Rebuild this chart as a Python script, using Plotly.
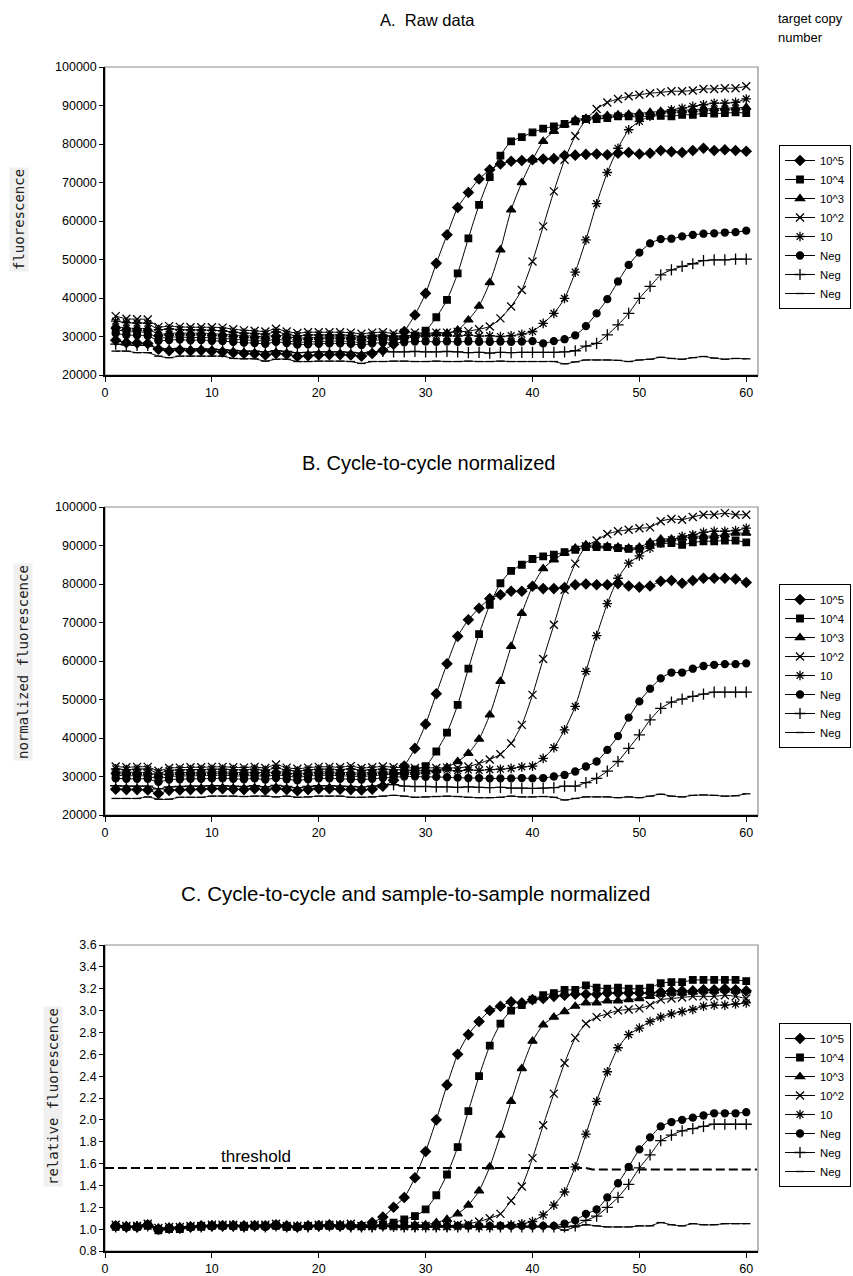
import plotly.graph_objects as go

cycles = list(range(1, 61))
series_names = ["10^5", "10^4", "10^3", "10^2", "10", "Neg", "Neg", "Neg"]

# ---------- Panel A : raw data (thousands) ----------
A_1e5 = [29.0, 28.4, 28.3, 28.2, 26.7, 26.3, 26.5, 26.3, 26.4, 26.2,
         26.0, 25.8, 25.6, 25.5, 25.2, 25.6, 25.4, 24.8, 25.0, 25.2,
         25.3, 25.3, 25.2, 24.9, 25.6, 26.4, 28.0, 31.3, 35.6, 41.2,
         49.0, 56.4, 63.5, 67.4, 70.9, 73.3, 74.8, 75.5, 75.7, 75.9,
         76.1, 76.2, 77.0, 77.1, 77.3, 77.4, 77.2, 77.6, 77.8, 77.4,
         77.6, 78.3, 78.0, 77.8, 78.3, 78.9, 78.3, 78.5, 78.3, 78.1]
A_1e4 = [31.8, 31.3, 31.2, 31.0, 29.6, 29.8, 29.9, 29.7, 29.8, 29.6,
         29.5, 29.3, 29.1, 29.0, 28.8, 29.3, 28.9, 28.5, 28.6, 28.7,
         28.8, 28.8, 28.7, 28.4, 28.9, 29.2, 29.0, 29.5, 30.2, 31.5,
         35.0, 39.5, 46.4, 55.5, 64.2, 71.4, 77.0, 80.7, 81.8, 83.0,
         84.0, 84.6, 85.2, 85.9, 86.5, 86.5, 86.7, 87.2, 87.2, 87.0,
         87.3, 87.3, 87.2, 87.6, 87.6, 88.0, 87.9, 88.0, 88.2, 88.0]
A_1e3 = [32.6, 32.2, 32.1, 32.0, 30.6, 30.8, 30.9, 30.8, 30.9, 30.7,
         30.6, 30.4, 30.2, 30.1, 29.9, 30.4, 30.0, 29.6, 29.7, 29.8,
         29.9, 29.9, 29.8, 29.5, 29.9, 30.1, 29.9, 30.0, 30.3, 30.5,
         30.8, 30.9, 31.7, 34.3, 37.9, 44.0, 52.5, 62.9, 70.0, 75.9,
         80.7, 83.3, 85.0, 86.3, 86.7, 87.2, 87.4, 87.6, 87.7, 88.0,
         88.2, 88.5, 88.6, 88.7, 88.9, 89.1, 89.2, 89.3, 89.4, 89.5]
A_1e2 = [35.3, 34.6, 34.5, 34.4, 32.5, 32.7, 32.5, 32.4, 32.4, 32.4,
         32.3, 31.9, 31.6, 31.5, 31.3, 32.0, 31.3, 30.9, 31.1, 31.1,
         31.1, 31.1, 31.0, 30.7, 31.0, 31.1, 30.8, 30.9, 31.0, 30.8,
         31.0, 31.0, 31.2, 31.4, 31.9, 32.6, 34.7, 37.8, 42.1, 49.5,
         58.6, 67.7, 75.9, 82.1, 86.3, 89.1, 90.8, 91.7, 92.4, 92.8,
         93.2, 93.4, 93.7, 93.7, 93.9, 94.3, 94.3, 94.5, 94.5, 95.0]
A_10 = [34.0, 33.6, 33.5, 33.4, 31.8, 32.0, 31.8, 31.7, 31.7, 31.6,
        31.5, 31.1, 30.9, 30.8, 30.6, 31.2, 30.6, 30.2, 30.4, 30.4,
        30.4, 30.4, 30.3, 30.0, 30.3, 30.4, 30.1, 30.2, 30.3, 30.1,
        30.3, 30.2, 30.1, 30.3, 30.1, 30.2, 30.0, 30.2, 30.6, 31.3,
        33.4, 36.0, 39.9, 46.7, 55.1, 64.5, 72.6, 78.9, 83.7, 85.9,
        87.2, 88.0, 88.9, 89.3, 89.8, 90.2, 90.6, 90.6, 90.8, 91.7]
A_negC = [30.8, 30.4, 30.3, 30.2, 28.9, 29.1, 29.2, 29.0, 29.1, 28.9,
          28.8, 28.6, 28.4, 28.3, 28.1, 28.6, 28.3, 27.9, 28.0, 28.1,
          28.2, 28.2, 28.1, 27.8, 28.2, 28.4, 28.3, 28.5, 28.7, 28.7,
          28.6, 28.7, 28.6, 28.7, 28.6, 28.6, 28.7, 28.6, 28.7, 28.8,
          28.2, 28.8, 29.3, 30.3, 32.7, 36.0, 39.7, 44.3, 48.6, 51.8,
          54.2, 55.3, 55.4, 56.0, 56.4, 56.7, 56.8, 57.0, 57.1, 57.5]
A_negP = [28.0, 27.8, 27.7, 27.7, 26.9, 26.8, 26.9, 26.8, 26.8, 26.7,
          26.6, 26.4, 26.2, 26.2, 26.0, 26.3, 26.1, 25.8, 25.9, 26.0,
          26.0, 26.0, 25.9, 25.7, 26.0, 26.1, 26.0, 26.0, 26.1, 26.0,
          26.0, 26.1, 26.0, 25.8, 25.9, 25.7, 25.9, 25.8, 25.9, 25.9,
          25.9, 25.9, 26.0, 26.3, 27.5, 28.2, 30.4, 33.0, 36.0, 39.9,
          43.0, 46.0, 47.3, 48.2, 48.9, 49.7, 49.9, 49.9, 50.1, 50.1]
A_negL = [26.2, 26.2, 25.8, 25.8, 24.9, 24.5, 24.9, 24.9, 24.9, 24.9,
          24.9, 24.3, 24.2, 24.2, 23.6, 24.1, 24.1, 23.5, 23.5, 23.6,
          23.6, 23.6, 23.5, 23.0, 23.5, 23.5, 23.6, 23.6, 23.5, 23.5,
          23.6, 23.5, 23.5, 23.6, 23.5, 23.5, 23.6, 23.5, 23.5, 23.5,
          23.5, 23.5, 22.9, 23.4, 23.9, 23.9, 23.9, 23.8, 23.5, 23.9,
          24.1, 24.6, 24.3, 24.1, 24.5, 24.8, 24.4, 24.1, 24.3, 24.2]

# ---------- Panel B : cycle-to-cycle normalized (thousands) ----------
B_1e5 = [26.7, 26.6, 26.6, 26.5, 25.6, 26.4, 26.5, 26.6, 26.7, 26.8,
         26.8, 26.7, 26.6, 26.8, 26.5, 26.9, 26.6, 26.3, 26.6, 26.8,
         26.8, 26.7, 26.6, 26.5, 26.7, 27.5, 29.0, 32.7, 37.3, 43.6,
         51.5, 59.3, 66.4, 70.7, 73.7, 76.2, 77.2, 78.1, 78.1, 79.4,
         78.8, 78.8, 79.1, 79.8, 80.0, 79.8, 79.8, 80.1, 79.5, 79.2,
         79.5, 80.7, 80.9, 80.2, 80.9, 81.5, 81.5, 81.5, 81.3, 80.4]
B_1e4 = [30.3, 30.2, 30.2, 30.1, 29.4, 30.0, 30.1, 30.2, 30.2, 30.3,
         30.3, 30.2, 30.1, 30.3, 30.0, 30.4, 30.1, 29.8, 30.1, 30.3,
         30.3, 30.2, 30.1, 30.0, 30.2, 30.4, 30.6, 31.2, 31.8, 32.7,
         36.5, 41.4, 48.6, 58.0, 67.0, 74.6, 80.2, 83.4, 85.0, 86.5,
         87.2, 87.6, 88.3, 88.9, 89.6, 89.6, 89.6, 89.3, 89.1, 89.1,
         90.2, 90.5, 90.6, 90.2, 90.8, 91.1, 91.1, 91.3, 91.3, 90.8]
B_1e3 = [31.2, 31.1, 31.1, 31.0, 30.3, 30.9, 31.0, 31.1, 31.1, 31.2,
         31.2, 31.1, 31.0, 31.2, 30.9, 31.3, 31.0, 30.7, 31.0, 31.2,
         31.2, 31.1, 31.0, 30.9, 31.1, 31.2, 31.1, 31.0, 31.1, 31.2,
         31.6, 32.4, 33.9, 36.0, 39.7, 46.0, 54.7, 63.8, 72.4, 79.4,
         84.0, 86.3, 88.0, 89.3, 90.2, 89.9, 89.8, 89.6, 89.3, 89.6,
         90.8, 91.7, 91.7, 91.9, 92.4, 92.4, 92.5, 92.8, 93.2, 93.2]
B_1e2 = [32.6, 32.4, 32.5, 32.5, 31.5, 32.2, 32.3, 32.4, 32.4, 32.5,
         32.5, 32.4, 32.3, 32.5, 32.2, 33.1, 32.3, 32.0, 32.3, 32.5,
         32.5, 32.4, 32.7, 32.2, 32.4, 32.6, 32.4, 32.3, 32.2, 32.3,
         32.2, 32.3, 32.2, 32.6, 33.4, 34.4, 35.8, 38.6, 43.4, 51.2,
         60.5, 69.4, 78.5, 85.3, 89.8, 91.3, 93.0, 93.7, 94.1, 94.5,
         94.7, 96.3, 96.9, 96.7, 97.4, 98.0, 98.0, 98.4, 98.0, 98.0]
B_10 = [32.0, 31.8, 31.9, 31.9, 30.9, 31.6, 31.7, 31.8, 31.8, 31.9,
        31.9, 31.8, 31.7, 31.9, 31.6, 32.2, 31.7, 31.4, 31.7, 31.9,
        31.9, 31.8, 32.0, 31.6, 31.8, 31.9, 31.8, 31.7, 31.6, 31.6,
        31.6, 31.7, 31.5, 31.7, 31.6, 31.8, 31.9, 32.1, 32.5, 32.7,
        34.7, 37.5, 42.1, 48.2, 57.3, 66.6, 74.9, 81.5, 85.4, 87.3,
        89.3, 90.6, 91.5, 92.4, 92.8, 93.4, 93.7, 93.7, 93.9, 94.5]
B_negC = [29.5, 29.4, 29.4, 29.4, 28.6, 29.2, 29.3, 29.4, 29.4, 29.5,
          29.5, 29.4, 29.3, 29.5, 29.2, 29.6, 29.3, 29.0, 29.3, 29.5,
          29.5, 29.4, 29.3, 29.2, 29.4, 29.6, 29.8, 30.0, 30.0, 29.9,
          29.9, 29.8, 29.7, 29.6, 29.6, 29.5, 29.5, 29.5, 29.6, 29.5,
          29.6, 30.0, 30.4, 31.3, 32.6, 33.9, 36.9, 40.5, 45.3, 49.5,
          52.8, 55.5, 57.0, 57.0, 58.0, 58.7, 59.0, 59.2, 59.2, 59.4]
B_negP = [27.6, 27.5, 27.5, 27.5, 26.8, 27.3, 27.4, 27.5, 27.5, 27.6,
          27.6, 27.5, 27.4, 27.6, 27.3, 27.7, 27.4, 27.1, 27.4, 27.6,
          27.6, 27.5, 27.4, 27.3, 27.5, 27.8, 27.9, 27.5, 27.4, 27.4,
          27.3, 27.3, 27.2, 27.3, 27.2, 27.1, 27.2, 27.0, 27.0, 26.9,
          27.0, 27.1, 27.5, 27.5, 28.4, 29.5, 31.4, 33.9, 37.3, 40.8,
          44.7, 47.7, 49.3, 50.1, 50.8, 51.4, 51.9, 51.9, 51.9, 51.9]
B_negL = [24.3, 24.3, 24.3, 24.7, 24.1, 24.1, 24.6, 24.6, 24.6, 24.9,
          24.9, 24.9, 24.8, 24.9, 24.9, 24.7, 24.9, 24.6, 24.7, 24.9,
          24.9, 24.9, 24.6, 24.6, 24.7, 24.9, 25.1, 24.9, 24.6, 24.7,
          24.8, 24.9, 24.8, 24.6, 24.5, 24.5, 24.6, 24.9, 24.7, 24.7,
          24.8, 24.6, 23.9, 24.3, 24.7, 24.7, 24.7, 24.5, 24.7, 24.5,
          24.9, 25.4, 24.9, 24.7, 25.1, 25.2, 25.1, 24.9, 25.0, 25.5]

# ---------- Panel C : relative fluorescence ----------
C_1e5 = [1.03, 1.02, 1.02, 1.04, 1.00, 1.01, 1.01, 1.02, 1.03, 1.03,
         1.03, 1.03, 1.03, 1.03, 1.03, 1.04, 1.03, 1.02, 1.03, 1.03,
         1.04, 1.03, 1.03, 1.03, 1.06, 1.11, 1.20, 1.29, 1.47, 1.71,
         2.00, 2.32, 2.60, 2.78, 2.90, 3.00, 3.04, 3.08, 3.07, 3.10,
         3.11, 3.13, 3.14, 3.15, 3.15, 3.15, 3.16, 3.16, 3.16, 3.16,
         3.16, 3.17, 3.18, 3.18, 3.18, 3.19, 3.19, 3.20, 3.19, 3.18]
C_1e4 = [1.02, 1.02, 1.02, 1.03, 0.99, 1.00, 1.00, 1.02, 1.02, 1.03,
         1.03, 1.03, 1.02, 1.03, 1.03, 1.03, 1.02, 1.02, 1.03, 1.03,
         1.03, 1.03, 1.03, 1.03, 1.04, 1.04, 1.06, 1.09, 1.12, 1.18,
         1.31, 1.50, 1.75, 2.08, 2.40, 2.68, 2.88, 3.00, 3.05, 3.10,
         3.14, 3.16, 3.19, 3.19, 3.23, 3.21, 3.20, 3.21, 3.20, 3.20,
         3.21, 3.25, 3.26, 3.26, 3.28, 3.28, 3.28, 3.28, 3.28, 3.27]
C_1e3 = [1.03, 1.03, 1.02, 1.04, 1.00, 1.01, 1.02, 1.02, 1.03, 1.03,
         1.03, 1.04, 1.03, 1.03, 1.03, 1.03, 1.03, 1.02, 1.03, 1.04,
         1.03, 1.03, 1.03, 1.03, 1.03, 1.04, 1.03, 1.03, 1.04, 1.04,
         1.06, 1.09, 1.14, 1.22, 1.35, 1.57, 1.86, 2.17, 2.47, 2.72,
         2.87, 2.94, 2.99, 3.04, 3.07, 3.07, 3.09, 3.09, 3.10, 3.11,
         3.13, 3.15, 3.16, 3.16, 3.17, 3.18, 3.18, 3.19, 3.18, 3.18]
C_1e2 = [1.04, 1.03, 1.03, 1.05, 1.01, 1.02, 1.02, 1.03, 1.03, 1.04,
         1.04, 1.04, 1.03, 1.04, 1.04, 1.05, 1.03, 1.03, 1.03, 1.04,
         1.04, 1.04, 1.05, 1.03, 1.03, 1.04, 1.03, 1.03, 1.03, 1.03,
         1.03, 1.03, 1.04, 1.05, 1.07, 1.10, 1.14, 1.26, 1.39, 1.65,
         1.95, 2.24, 2.52, 2.75, 2.88, 2.94, 2.97, 3.00, 3.01, 3.02,
         3.05, 3.10, 3.11, 3.12, 3.13, 3.13, 3.13, 3.14, 3.13, 3.11]
C_10 = [1.03, 1.02, 1.03, 1.04, 1.00, 1.01, 1.01, 1.02, 1.03, 1.03,
        1.03, 1.03, 1.02, 1.03, 1.03, 1.04, 1.02, 1.02, 1.03, 1.03,
        1.03, 1.03, 1.04, 1.02, 1.02, 1.03, 1.02, 1.02, 1.02, 1.02,
        1.02, 1.02, 1.02, 1.03, 1.02, 1.02, 1.03, 1.04, 1.05, 1.07,
        1.13, 1.22, 1.34, 1.57, 1.87, 2.17, 2.44, 2.66, 2.78, 2.84,
        2.90, 2.94, 2.97, 2.99, 3.01, 3.04, 3.05, 3.05, 3.06, 3.07]
C_negC = [1.03, 1.02, 1.02, 1.04, 1.00, 1.01, 1.01, 1.02, 1.03, 1.03,
          1.03, 1.03, 1.03, 1.03, 1.02, 1.03, 1.02, 1.02, 1.03, 1.03,
          1.03, 1.03, 1.03, 1.03, 1.03, 1.03, 1.03, 1.03, 1.03, 1.03,
          1.03, 1.03, 1.03, 1.03, 1.03, 1.03, 1.03, 1.03, 1.03, 1.03,
          1.03, 1.03, 1.05, 1.08, 1.14, 1.18, 1.29, 1.42, 1.57, 1.73,
          1.84, 1.94, 1.98, 2.00, 2.02, 2.04, 2.06, 2.06, 2.06, 2.07]
C_negP = [1.02, 1.02, 1.02, 1.03, 1.00, 1.01, 1.01, 1.02, 1.02, 1.03,
          1.03, 1.03, 1.02, 1.03, 1.02, 1.03, 1.02, 1.02, 1.02, 1.03,
          1.03, 1.03, 1.02, 1.02, 1.02, 1.03, 1.03, 1.02, 1.02, 1.02,
          1.02, 1.02, 1.02, 1.02, 1.02, 1.02, 1.02, 1.02, 1.02, 1.02,
          1.02, 1.02, 1.02, 1.03, 1.08, 1.12, 1.20, 1.29, 1.41, 1.56,
          1.68, 1.81, 1.86, 1.90, 1.92, 1.94, 1.96, 1.96, 1.96, 1.96]
C_negL = [1.02, 1.02, 1.02, 1.03, 1.00, 1.01, 1.02, 1.02, 1.02, 1.03,
          1.03, 1.03, 1.02, 1.03, 1.02, 1.03, 1.02, 1.02, 1.03, 1.03,
          1.03, 1.03, 1.02, 1.02, 1.03, 1.03, 1.04, 1.03, 1.02, 1.02,
          1.03, 1.03, 1.03, 1.02, 1.02, 1.02, 1.02, 1.03, 1.02, 1.02,
          1.03, 1.02, 0.99, 1.02, 1.04, 1.03, 1.02, 1.02, 1.02, 1.03,
          1.03, 1.06, 1.04, 1.03, 1.05, 1.04, 1.04, 1.05, 1.05, 1.05]

threshold_x = [0, 45, 45.6, 61]
threshold_y = [1.56, 1.56, 1.545, 1.545]

x_ticks = [0, 10, 20, 30, 40, 50, 60]

# ---------- figure ----------
W, H = 853, 1276
FONT = "Arial, Liberation Sans, sans-serif"
MONO = "DejaVu Sans Mono, monospace"

symbols = ["diamond", "square", "triangle-up", "x-thin-open",
           "asterisk-open", "circle", "cross-thin-open", "line-ew-open"]
msizes = [7.5, 6.5, 8, 8, 8, 7, 8, 6]

panels = [
    dict(data=[A_1e5, A_1e4, A_1e3, A_1e2, A_10, A_negC, A_negP, A_negL], scale=1000,
         top=67, bottom=375, yr=[20000, 100000], dt=10000, fmt="d",
         title="A.  Raw data", title_x=427, title_y=20, title_size=16.5,
         ytitle="fluorescence", ytx=19, yty=220, leg_top=145),
    dict(data=[B_1e5, B_1e4, B_1e3, B_1e2, B_10, B_negC, B_negP, B_negL], scale=1000,
         top=507, bottom=815, yr=[20000, 100000], dt=10000, fmt="d",
         title="B. Cycle-to-cycle normalized", title_x=428, title_y=463, title_size=20,
         ytitle="normalized fluorescence", ytx=23, yty=662, leg_top=584),
    dict(data=[C_1e5, C_1e4, C_1e3, C_1e2, C_10, C_negC, C_negP, C_negL], scale=1,
         top=945, bottom=1251, yr=[0.8, 3.6], dt=0.2, fmt=".1f",
         title="C. Cycle-to-cycle and sample-to-sample normalized", title_x=415,
         title_y=893, title_size=20.5,
         ytitle="relative fluorescence", ytx=53, yty=1097, leg_top=1023),
]

X0, X1 = 105, 758
fig = go.Figure()
layout = dict(width=W, height=H,
              margin=dict(l=0, r=0, t=0, b=0, autoexpand=False), autosize=False,
              plot_bgcolor="white", paper_bgcolor="white",
              font=dict(family=FONT, size=12, color="black"))
annotations = []
shapes = []
legend_keys = ["legend", "legend2", "legend3"]

for i, p in enumerate(panels):
    xa = "xaxis" if i == 0 else f"xaxis{i+1}"
    ya = "yaxis" if i == 0 else f"yaxis{i+1}"
    xr = "x" if i == 0 else f"x{i+1}"
    yr = "y" if i == 0 else f"y{i+1}"
    dom_y = [1 - p["bottom"] / H, 1 - p["top"] / H]
    layout[xa] = dict(domain=[X0 / W, X1 / W], range=[0, 61.1], anchor=yr,
                      tickvals=x_ticks, ticks="outside", ticklen=5, tickwidth=1.3,
                      tickcolor="black", showline=True, linecolor="black", linewidth=1.5,
                      showgrid=False, zeroline=False, automargin=False,
                      tickfont=dict(family=FONT, size=12.5, color="black"))
    layout[ya] = dict(domain=dom_y, range=p["yr"], dtick=p["dt"], anchor=xr,
                      tickformat=p["fmt"], ticks="outside", ticklen=4, tickwidth=1.3,
                      tickcolor="black", showline=True, linecolor="black", linewidth=1.5,
                      showgrid=False, zeroline=False, automargin=False,
                      tickfont=dict(family=FONT, size=12.5, color="black"))
    # grey plot-area frame (top/right)
    shapes.append(dict(type="rect", xref="paper", yref="paper", x0=X0 / W, x1=X1 / W,
                       y0=dom_y[0], y1=dom_y[1], line=dict(color="#8c8c8c", width=1.2),
                       layer="below"))
    for k, (vals, name) in enumerate(zip(p["data"], series_names)):
        yv = [v * p["scale"] for v in vals]
        fig.add_trace(go.Scatter(
            x=cycles, y=yv, name=name, xaxis=xr, yaxis=yr, mode="lines+markers",
            line=dict(color="black", width=1, shape="spline", smoothing=0.6),
            marker=dict(symbol=symbols[k], size=msizes[k], color="black",
                        line=dict(color="black", width=1.3)),
            legend=legend_keys[i], showlegend=True))
    layout[legend_keys[i]] = dict(
        x=779 / W, xanchor="left", y=1 - p["leg_top"] / H, yanchor="top",
        bgcolor="white", bordercolor="black", borderwidth=1,
        font=dict(family=FONT, size=11.3, color="black"),
        itemwidth=30, tracegroupgap=0)
    annotations.append(dict(text=p["title"], xref="paper", yref="paper",
                            x=p["title_x"] / W, y=1 - p["title_y"] / H, xanchor="center",
                            yanchor="middle", showarrow=False,
                            font=dict(family=FONT, size=p["title_size"], color="black")))
    annotations.append(dict(text=p["ytitle"], xref="paper", yref="paper",
                            x=p["ytx"] / W, y=1 - p["yty"] / H, xanchor="center",
                            yanchor="middle", textangle=-90, showarrow=False,
                            bgcolor="#f0f0f0",
                            font=dict(family=MONO, size=14, color="#222222")))

# threshold line in panel C
fig.add_trace(go.Scatter(x=threshold_x, y=threshold_y, xaxis="x3", yaxis="y3",
                         mode="lines", line=dict(color="black", width=2, dash="9px,4px"),
                         showlegend=False, hoverinfo="skip"))
annotations.append(dict(text="threshold", xref="x3", yref="y3", x=10.7, y=1.56,
                        xanchor="left", yanchor="bottom", showarrow=False,
                        font=dict(family=FONT, size=17, color="black")))
for txt, ty in (("target copy", 18), ("number", 38)):
    annotations.append(dict(text=txt, xref="paper", yref="paper",
                            x=776 / W, y=1 - ty / H, xanchor="left", yanchor="middle",
                            showarrow=False,
                            font=dict(family=FONT, size=13, color="black")))

layout["annotations"] = annotations
layout["shapes"] = shapes
fig.update_layout(**layout)
fig.write_html("out.html", config={"displayModeBar": False},
               post_script="document.body.style.margin='0';document.body.style.overflow='hidden';")
